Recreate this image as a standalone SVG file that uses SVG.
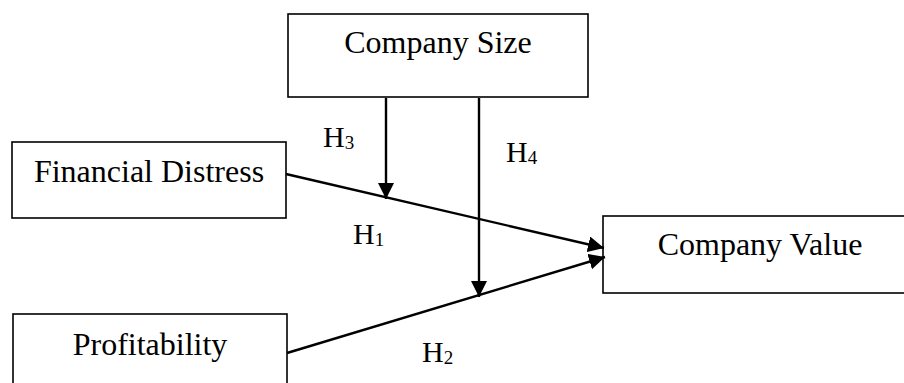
<svg xmlns="http://www.w3.org/2000/svg" width="904" height="383" viewBox="0 0 904 383">
<style>
.box{fill:#fff;stroke:#000;stroke-width:1.6}
.lbl{font-family:"Liberation Serif","Times New Roman",serif;font-size:32px;fill:#000;text-anchor:middle}
.h{font-family:"Liberation Serif","Times New Roman",serif;font-size:30px;fill:#000}
.sub{font-size:19px}
.con{stroke:#000;stroke-width:2.4;fill:none}
</style>
<defs>
<marker id="arr" markerUnits="userSpaceOnUse" markerWidth="16" markerHeight="16" refX="15" refY="7.5" orient="auto" viewBox="0 0 15 15">
<path d="M0,0 L15,7.5 L0,15 z" fill="#000"/>
</marker>
</defs>
<rect width="904" height="383" fill="#fff"/>
<g id="company-size">
<rect class="box" x="288" y="14" width="300" height="83"/>
<text class="lbl" x="438" y="53">Company Size</text>
</g>
<g id="financial-distress">
<rect class="box" x="12" y="142" width="274" height="76"/>
<text class="lbl" x="149" y="182">Financial Distress</text>
</g>
<g id="profitability">
<rect class="box" x="13" y="314" width="274" height="80"/>
<text class="lbl" x="150" y="355">Profitability</text>
</g>
<g id="company-value">
<rect class="box" x="603" y="216" width="320" height="77"/>
<text class="lbl" x="760" y="255">Company Value</text>
</g>
<g id="connectors">
<line class="con" x1="286" y1="174" x2="604" y2="248" marker-end="url(#arr)"/>
<line class="con" x1="287" y1="353" x2="605" y2="257" marker-end="url(#arr)"/>
<line class="con" x1="386" y1="98" x2="386" y2="199" marker-end="url(#arr)"/>
<line class="con" x1="479" y1="98" x2="479" y2="297" marker-end="url(#arr)"/>
</g>
<g id="labels">
<text class="h" x="323" y="147">H<tspan class="sub" dy="2">3</tspan></text>
<text class="h" x="506" y="162">H<tspan class="sub" dy="2">4</tspan></text>
<text class="h" x="353" y="244">H<tspan class="sub" dy="2">1</tspan></text>
<text class="h" x="422" y="362">H<tspan class="sub" dy="2">2</tspan></text>
</g>
</svg>
